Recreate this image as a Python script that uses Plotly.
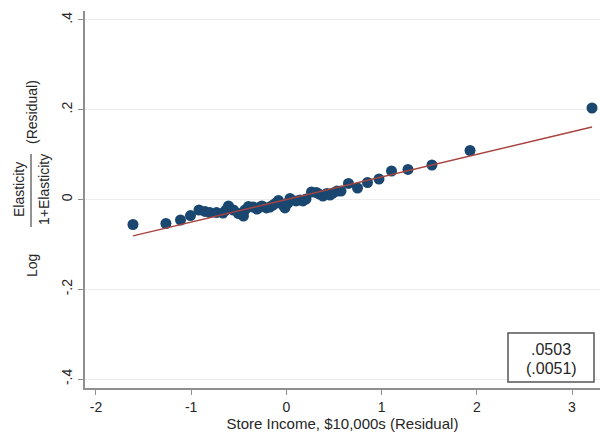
import plotly.graph_objects as go

# Residualised store income ($10,000s) and log elasticity ratio, one point per store group
income_resid = [
    -1.611, -1.265, -1.112, -1.007, -0.918, -0.855, -0.803, -0.734, -0.666, -0.634,
    -0.608, -0.556, -0.503, -0.451, -0.435, -0.398, -0.351, -0.309, -0.277, -0.256,
    -0.209, -0.172, -0.141, -0.109, -0.083, -0.030, -0.015, 0.017, 0.038, 0.101,
    0.143, 0.174, 0.206, 0.264, 0.316, 0.342, 0.384, 0.426, 0.458, 0.489,
    0.532, 0.574, 0.652, 0.747, 0.852, 0.973, 1.104, 1.277, 1.529, 1.929, 3.210,
]
log_elast_resid = [
    -0.0557, -0.0535, -0.0457, -0.0357, -0.0234, -0.0267, -0.0290, -0.0290, -0.0301, -0.0234,
    -0.0145, -0.0234, -0.0312, -0.0368, -0.0234, -0.0156, -0.0167, -0.0212, -0.0167, -0.0145,
    -0.0189, -0.0167, -0.0123, -0.0078, -0.0022, -0.0134, -0.0189, -0.0078, 0.0022, -0.0033,
    -0.0011, -0.0033, 0.0011, 0.0167, 0.0156, 0.0123, 0.0078, 0.0134, 0.0100, 0.0145,
    0.0189, 0.0189, 0.0357, 0.0256, 0.0379, 0.0457, 0.0635, 0.0669, 0.0769, 0.1092, 0.2039,
]

# Fitted slope (with standard error) and intercept of the residual regression
fit_slope = 0.0503
fit_se = 0.0051
fit_intercept = 0.0

x_ticks = [-2, -1, 0, 1, 2, 3]
x_tick_text = ["-2", "-1", "0", "1", "2", "3"]
y_ticks = [-0.4, -0.2, 0.0, 0.2, 0.4]
y_tick_text = ["-.4", "-.2", "0", ".2", ".4"]

FONT = "Liberation Sans, Arial, sans-serif"
TXT = "#262626"
AXIS = "#8f8f8f"

fit_x = [min(income_resid), max(income_resid)]
fit_y = [fit_intercept + fit_slope * v for v in fit_x]

fig = go.Figure()
fig.add_trace(go.Scatter(
    x=income_resid, y=log_elast_resid, mode="markers",
    marker=dict(size=11, color="#1a476f", line=dict(width=0)),
    showlegend=False,
))
fig.add_trace(go.Scatter(
    x=fit_x, y=fit_y, mode="lines",
    line=dict(color="#a8433f", width=1.5),
    showlegend=False,
))

# plot area in pixels: left 85, right 600, top 11, bottom 388
L, R, T, B = 85, 600, 11, 388
def px(xp):
    return (xp - L) / (R - L)
def py(yp):
    return (B - yp) / (B - T)

fig.update_layout(
    width=600, height=432,
    margin=dict(l=L, r=600 - R, t=T, b=432 - B),
    paper_bgcolor="white", plot_bgcolor="white",
    font=dict(family=FONT, size=14, color=TXT),
    xaxis=dict(
        range=[-2.115, 3.294], tickvals=x_ticks, ticktext=x_tick_text,
        showgrid=False, zeroline=False,
        showline=True, linecolor=AXIS, linewidth=2,
        ticks="outside", ticklen=5, tickcolor=AXIS, tickwidth=1,
        tickfont=dict(size=14, color=TXT),
        title=dict(text="Store Income, $10,000s (Residual)", font=dict(size=15, color=TXT), standoff=0),
    ),
    yaxis=dict(
        range=[-0.42, 0.42], tickvals=y_ticks, ticktext=y_tick_text,
        showgrid=True, gridcolor="#ececec", gridwidth=1, zeroline=False,
        showline=True, linecolor=AXIS, linewidth=2,
        ticks="outside", ticklen=5, tickcolor=AXIS, tickwidth=1,
        tickangle=-90, tickfont=dict(size=14, color=TXT),
    ),
)

def label(text, xp, yp, size=14, angle=0):
    fig.add_annotation(
        text=text, x=px(xp), y=py(yp), xref="paper", yref="paper",
        textangle=angle, showarrow=False, xanchor="center", yanchor="middle",
        font=dict(family=FONT, size=size, color=TXT),
    )

# y-axis title written as Log[ Elasticity / (1+Elasticity) ] (Residual)
frac_x = 31
label("Log", frac_x + 1, 266, angle=-90)
label("Elasticity", 19, 190, angle=-90)
label("1+Elasticity", 44, 190, angle=-90)
label("(Residual)", frac_x + 1, 112, angle=-90)
fig.add_shape(type="line", xref="paper", yref="paper",
              x0=px(frac_x), x1=px(frac_x), y0=py(227), y1=py(154),
              line=dict(color=TXT, width=1))

# coefficient box
fig.add_shape(type="rect", xref="paper", yref="paper",
              x0=px(508), x1=px(594), y0=py(382), y1=py(333),
              line=dict(color="#555555", width=1.5), fillcolor="white")
label(f"{fit_slope:.4f}".lstrip("0"), 551, 349, size=16)
label("(" + f"{fit_se:.4f}".lstrip("0") + ")", 551, 368, size=16)

fig.write_html("out.html")
